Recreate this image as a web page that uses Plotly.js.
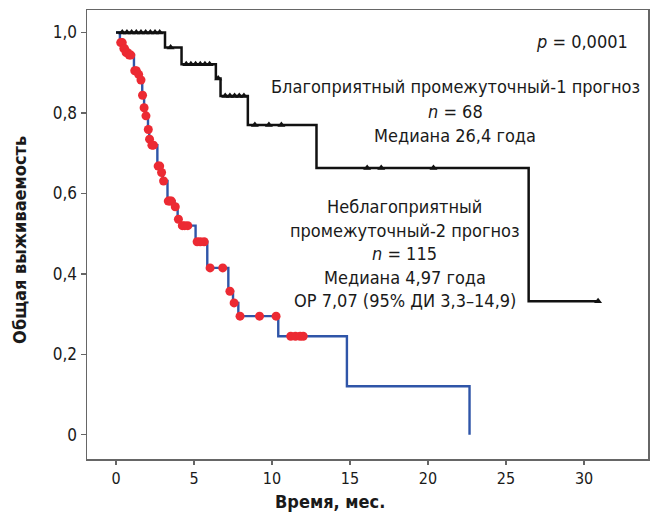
<!DOCTYPE html>
<html>
<head>
<meta charset="utf-8">
<script src="https://cdn.plot.ly/plotly-3.0.1.min.js"></script>
<style>html,body{margin:0;padding:0;background:#fff;}#chart{width:657px;height:518px;}</style>
</head>
<body>
<div id="chart"></div>
<script>
// Favorable / intermediate-1 group (n = 68): step curve
const favTime = [0, 3.14, 4.2, 6.4, 6.7, 8.45, 12.85, 26.45, 30.9];
const favSurv = [1.0, 0.963, 0.921, 0.886, 0.842, 0.770, 0.663, 0.332, 0.332];
// censored observations (times)
const favCensor = [0.4, 0.7, 1.0, 1.3, 1.6, 1.9, 2.2, 2.5, 2.8, 3.5, 4.5, 4.8, 5.1, 5.4, 5.7, 6.0, 6.55, 7.0, 7.3, 7.6, 7.9, 8.2, 8.9, 9.8, 10.6, 16.1, 17.0, 20.35, 30.9];

// Unfavorable / intermediate-2 group (n = 115): step curve
const unfTime = [0, 0.25, 0.45, 0.6, 0.85, 1.15, 1.4, 1.55, 1.68, 1.8, 1.9, 2.05, 2.13, 2.25, 2.65, 2.9, 3.0, 3.3, 3.75, 3.95, 4.15, 5.1, 5.85, 7.2, 7.5, 7.84, 10.4, 14.8, 22.66];
const unfSurv = [1.0, 0.975, 0.96, 0.95, 0.944, 0.905, 0.896, 0.882, 0.844, 0.813, 0.793, 0.759, 0.735, 0.72, 0.668, 0.652, 0.631, 0.581, 0.567, 0.536, 0.52, 0.48, 0.415, 0.357, 0.328, 0.295, 0.245, 0.121, 0.0];
const unfCensor = [0.3, 0.4, 0.5, 0.55, 0.65, 0.75, 0.85, 0.95, 1.2, 1.3, 1.45, 1.6, 1.7, 1.8, 1.92, 2.07, 2.15, 2.3, 2.4, 2.7, 2.8, 2.92, 3.05, 3.35, 3.45, 3.55, 3.8, 4.0, 4.25, 4.4, 4.6, 5.2, 5.4, 5.65, 6.03, 6.84, 7.3, 7.57, 7.95, 9.2, 10.26, 11.2, 11.5, 11.8, 12.0];

const yTickVals = [0, 0.2, 0.4, 0.6, 0.8, 1.0];
const yTickText = ['0', '0,2', '0,4', '0,6', '0,8', '1,0'];
const xTickVals = [0, 5, 10, 15, 20, 25, 30];

function stepAt(times, surv, t) {
  let s = surv[0];
  for (let i = 0; i < times.length; i++) { if (times[i] <= t) s = surv[i]; }
  return s;
}

const FONT = 'Liberation Sans Narrow, DejaVu Sans Condensed, Arial Narrow, sans-serif';
const TXT = '#1a1a1a';

const traces = [
  {x: unfTime, y: unfSurv, mode: 'lines', line: {shape: 'hv', color: '#2f55a8', width: 2.4}, hoverinfo: 'skip'},
  {x: unfCensor, y: unfCensor.map(t => stepAt(unfTime, unfSurv, t)), mode: 'markers',
   marker: {symbol: 'circle', size: 9, color: '#ec2a33'}, hoverinfo: 'skip'},
  {x: favTime, y: favSurv, mode: 'lines', line: {shape: 'hv', color: '#111111', width: 2.5}, hoverinfo: 'skip'},
  {x: favCensor, y: favCensor.map(t => stepAt(favTime, favSurv, t)), mode: 'markers',
   marker: {symbol: 'triangle-up', size: 7, color: '#111111'}, hoverinfo: 'skip'}
];

function ann(text, x, y, extra) {
  return Object.assign({text: text, x: x, y: y, xref: 'x', yref: 'y', showarrow: false,
    xanchor: 'center', yanchor: 'middle', font: {family: FONT, size: 18, color: TXT}}, extra || {});
}

const annotations = [
  ann('<i>p</i> = 0,0001', 29.9, 0.978),
  ann('Благоприятный промежуточный-1 прогноз', 21.75, 0.866),
  ann('<i>n</i> = 68', 21.75, 0.804),
  ann('Медиана 26,4 года', 21.75, 0.745),
  ann('Неблагоприятный', 18.5, 0.568),
  ann('промежуточный-2 прогноз', 18.5, 0.508),
  ann('<i>n</i> = 115', 18.5, 0.451),
  ann('Медиана 4,97 года', 18.5, 0.391),
  ann('ОР 7,07 (95% ДИ 3,3–14,9)', 18.5, 0.334),
  {text: '<b>Время, мес.</b>', xref: 'paper', yref: 'paper', x: 0.433, y: 0, yshift: -42,
   showarrow: false, xanchor: 'center', yanchor: 'middle', font: {family: FONT, size: 18, color: TXT}},
  {text: '<b>Общая выживаемость</b>', xref: 'paper', yref: 'paper', x: 0, xshift: -67, y: 0.488,
   textangle: -90, showarrow: false, xanchor: 'center', yanchor: 'middle', font: {family: FONT, size: 18, color: TXT}}
];

const layout = {
  width: 657, height: 518,
  margin: {l: 87, r: 9, t: 10, b: 59},
  paper_bgcolor: '#ffffff', plot_bgcolor: '#ffffff',
  showlegend: false,
  font: {family: FONT, size: 16, color: TXT},
  xaxis: {range: [-1.86, 34.1], tickvals: xTickVals, ticks: 'outside', ticklen: 4, tickwidth: 1.2,
    tickcolor: '#666', showline: true, linecolor: '#666', linewidth: 1.5, mirror: true,
    showgrid: false, zeroline: false, tickfont: {family: FONT, size: 16, color: TXT}},
  yaxis: {range: [-0.06, 1.056], tickvals: yTickVals, ticktext: yTickText, ticks: 'outside', ticklen: 5, tickwidth: 1.2,
    tickcolor: '#666', showline: true, linecolor: '#666', linewidth: 1.5, mirror: true,
    showgrid: false, zeroline: false, tickfont: {family: FONT, size: 17, color: TXT}},
  annotations: annotations
};

Plotly.newPlot('chart', traces, layout, {staticPlot: true, displayModeBar: false});
</script>
</body>
</html>
